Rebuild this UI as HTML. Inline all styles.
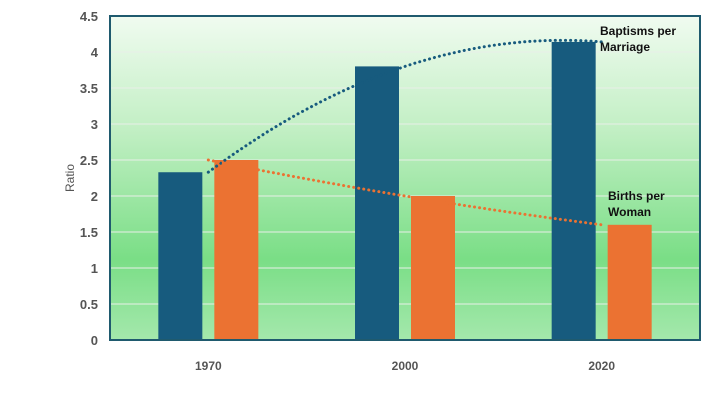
<!DOCTYPE html>
<html><head><meta charset="utf-8"><style>
body{margin:0;background:#fff;width:720px;height:405px;overflow:hidden}
text{font-family:"Liberation Sans",Arial,sans-serif}
</style></head><body>
<svg id="chart" width="720" height="405" viewBox="0 0 720 405">
<defs><linearGradient id="bg" x1="0" y1="0" x2="0" y2="1">
<stop offset="0" stop-color="#f0fbf0"/><stop offset="0.35" stop-color="#c2efc4"/>
<stop offset="0.75" stop-color="#7ade86"/><stop offset="1" stop-color="#a4e8ac"/></linearGradient></defs>
<rect x="110" y="16" width="590" height="324" fill="url(#bg)"/>
<g id="grid"></g><g id="bars"></g><g id="trends"></g>
<rect x="110" y="16" width="590" height="324" fill="none" stroke="#1f5a6e" stroke-width="2"/>
<g id="yticks"></g><g id="xticks"></g>
<text x="74" y="178" font-size="12" fill="#555" text-anchor="middle" transform="rotate(-90 74 178)">Ratio</text>
<text font-size="12" font-weight="bold" fill="#111"><tspan x="600" y="35">Baptisms per</tspan><tspan x="600" y="51">Marriage</tspan></text>
<text font-size="12" font-weight="bold" fill="#111"><tspan x="608" y="200">Births per</tspan><tspan x="608" y="216">Woman</tspan></text>
</svg>
<script>
const categories=["1970","2000","2020"];
const baptisms=[2.33,3.8,4.14];
const births=[2.5,2.0,1.6];
const yTicks=[0,0.5,1,1.5,2,2.5,3,3.5,4,4.5];
const L=110,R=700,T=16,B=340,YMAX=4.5;
const y=v=>B-(v/YMAX)*(B-T);
const bw=(R-L)/categories.length;
const cx=i=>L+bw*(i+0.5);
const NS="http://www.w3.org/2000/svg";
function mk(tag,parent,attrs){const e=document.createElementNS(NS,tag);for(const k in attrs)e.setAttribute(k,attrs[k]);document.getElementById(parent).appendChild(e);return e;}
yTicks.forEach(v=>{
 if(v>0&&v<YMAX){const g=mk('line','grid',{x1:L,x2:R,y1:y(v),y2:y(v),stroke:'#e8efe8','stroke-width':1});
 
 }
 const t=mk('text','yticks',{x:L-12,y:y(v)+5,'text-anchor':'end','font-size':13,'font-weight':'bold',fill:'#555'});
 
 
 t.textContent=v;
});
categories.forEach((c,i)=>{
 const b1=mk('rect','bars',{x:cx(i)-50,y:y(baptisms[i]),width:44,height:B-y(baptisms[i]),fill:'#175b7e'});
 
 
 const b2=mk('rect','bars',{x:cx(i)+6,y:y(births[i]),width:44,height:B-y(births[i]),fill:'#eb7232'});
 
 
 const t=mk('text','xticks',{x:cx(i),y:370,'text-anchor':'middle','font-size':12,'font-weight':'bold',fill:'#555'});
 
 
 t.textContent=c;
});
function quad(vals,color,name){
 const xs=categories.map((c,i)=>cx(i));
 const n=40;let d='';
 const lag=x=>{let s=0;for(let i=0;i<3;i++){let p=vals[i];for(let j=0;j<3;j++)if(j!==i)p*=(x-xs[j])/(xs[i]-xs[j]);s+=p;}return s;};
 for(let k=0;k<=n;k++){const x=xs[0]+(xs[2]-xs[0])*k/n;d+=(k?'L':'M')+x.toFixed(1)+','+y(lag(x)).toFixed(1);}
 const p=mk('path','trends',{d:d,fill:'none',stroke:color,'stroke-width':3,'stroke-dasharray':'0.1 5','stroke-linecap':'round'});
 
 
}
quad(baptisms,'#175b7e','trend-baptisms');
quad(births,'#eb7232','trend-births');
</script>
</body></html>
